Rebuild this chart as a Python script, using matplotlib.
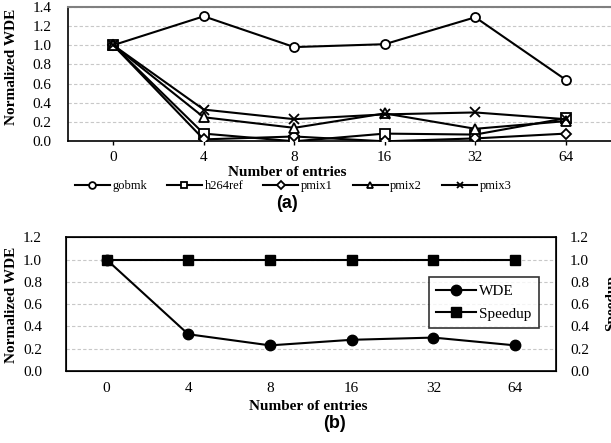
import matplotlib
matplotlib.use("Agg")
import matplotlib.pyplot as plt

plt.rcParams['font.family'] = ['Liberation Serif', 'DejaVu Serif']

# data
entries = ['0', '4', '8', '16', '32', '64']
gobmk = [1.0, 1.30, 0.98, 1.01, 1.29, 0.64]
h264ref = [1.0, 0.08, 0.0, 0.08, 0.07, 0.24]
pmix1 = [1.0, 0.02, 0.05, 0.0, 0.03, 0.08]
pmix2 = [1.0, 0.25, 0.14, 0.29, 0.13, 0.21]
pmix3 = [1.0, 0.33, 0.23, 0.28, 0.30, 0.23]
wde = [1.0, 0.33, 0.23, 0.28, 0.30, 0.23]
speedup = [1.0, 1.0, 1.0, 1.0, 1.0, 1.0]

W, H = 611, 443
fig = plt.figure(figsize=(W / 100, H / 100), dpi=100)

def box(l, t, r, b):
    return [l / W, 1 - b / H, (r - l) / W, (b - t) / H]

x = list(range(len(entries)))

# ---- (a) ----
ax1 = fig.add_axes(box(68, 6.7, 611, 141.3))
series = [(gobmk, 'o', 'gobmk'), (h264ref, 's', 'h264ref'), (pmix1, 'D', 'pmix1'),
          (pmix2, '^', 'pmix2'), (pmix3, 'x', 'pmix3')]
handles = []
for vals, m, name in series:
    ms = 5 if m == 'D' else 6.5
    h, = ax1.plot(x, vals, color='black', lw=1.5, marker=m, ms=ms,
                  mfc='white', mec='black', mew=1.3, label=name, zorder=3)
    handles.append(h)
ax1.set_xlim(-0.5, 5.5)
ax1.set_ylim(0, 1.4)
ax1.set_yticks([0, 0.2, 0.4, 0.6, 0.8, 1.0, 1.2, 1.4])
ax1.set_yticklabels(['%.1f' % v for v in ax1.get_yticks()])
ax1.set_xticks(x)
ax1.set_xticklabels(entries)
ax1.yaxis.grid(True, ls=(0, (3, 2)), color='#c8c8c8', lw=0.8)
ax1.set_axisbelow(True)
ax1.tick_params(axis='both', labelsize=11, length=0, pad=12)
ax1.tick_params(axis='x', length=3, width=1, pad=4)
ax1.spines['top'].set_color('#808080')
ax1.spines['top'].set_linewidth(1.5)
ax1.spines['right'].set_visible(False)
ax1.spines['left'].set_linewidth(1.2)
ax1.spines['bottom'].set_linewidth(1.2)

fig.text(12 / W, 1 - 67 / H, 'Normalized WDE', rotation=90, ha='center', va='center',
         fontsize=11, fontweight='bold')
fig.text(287 / W, 1 - 172 / H, 'Number of entries', ha='center', va='center',
         fontsize=11, fontweight='bold')
fig.legend(handles=handles, loc='center', bbox_to_anchor=(293 / W, 1 - 186 / H),
           ncol=5, frameon=False, fontsize=9, handlelength=2.8, columnspacing=1.6,
           handletextpad=0.2, markerscale=0.75)
fig.text(287 / W, 1 - 203 / H, '(a)', ha='center', va='center', fontsize=13,
         fontweight='bold', family='Liberation Sans')

# ---- (b) ----
ax2 = fig.add_axes(box(65.7, 237.3, 556, 371))
ax2.plot(x, wde, color='black', lw=1.5, marker='o', ms=7.5, mfc='black', label='WDE', zorder=3)
ax2.plot(x, speedup, color='black', lw=1.5, marker='s', ms=7.5, mfc='black', label='Speedup', zorder=3)
ax2.set_xlim(-0.5, 5.5)
ax2.set_ylim(0, 1.2)
ticks2 = [0, 0.2, 0.4, 0.6, 0.8, 1.0, 1.2]
ax2.set_yticks(ticks2)
ax2.set_yticklabels(['%.1f' % v for v in ticks2])
ax2.set_xticks(x)
ax2.set_xticklabels(entries)
ax2.yaxis.grid(True, ls=(0, (3, 2)), color='#c8c8c8', lw=0.8)
ax2.set_axisbelow(True)
ax2.tick_params(axis='both', labelsize=11, length=0, pad=17)
ax2.tick_params(axis='x', pad=8)
for s in ax2.spines.values():
    s.set_linewidth(1.2)
leg = ax2.legend(loc='upper left', bbox_to_anchor=((421 - 65.7) / (556 - 65.7), (371 - 269) / (371 - 237.3)),
                 fontsize=11, frameon=True, fancybox=False, edgecolor='black',
                 handlelength=2.6, handletextpad=0.2, borderpad=0.5, labelspacing=0.6)
leg.get_frame().set_linewidth(1.2)

ax3 = ax2.twinx()
ax3.set_ylim(0, 1.2)
ax3.set_yticks(ticks2)
ax3.set_yticklabels(['%.1f' % v for v in ticks2])
ax3.tick_params(axis='y', labelsize=11, length=0, pad=10)

fig.text(12 / W, 1 - 305 / H, 'Normalized WDE', rotation=90, ha='center', va='center',
         fontsize=11, fontweight='bold')
fig.text(612 / W, 1 - 303 / H, 'Speedup', rotation=90, ha='center', va='center',
         fontsize=11, fontweight='bold')
fig.text(308 / W, 1 - 407 / H, 'Number of entries', ha='center', va='center',
         fontsize=11, fontweight='bold')
fig.text(335 / W, 1 - 424 / H, '(b)', ha='center', va='center', fontsize=13,
         fontweight='bold', family='Liberation Sans')

fig.savefig('out.png', dpi=100)
